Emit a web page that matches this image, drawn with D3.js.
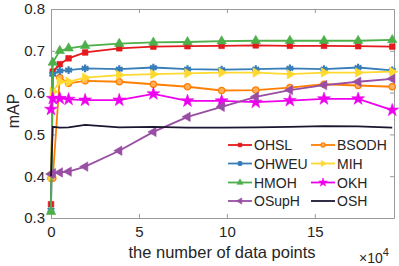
<!DOCTYPE html>
<html>
<head>
<meta charset="utf-8">
<script src="https://cdn.jsdelivr.net/npm/d3@7"></script>
<style>
  body { margin: 0; background: #fff; }
  text { font-family: "Liberation Sans", Arial, sans-serif; fill: #262626; }
</style>
</head>
<body>
<div id="container"></div>
<script>
// DATA (x in units of 1e4 data points)
const xValues = [0, 0.1, 0.5, 1, 1.94, 3.88, 5.82, 7.76, 9.7, 11.64, 13.58, 15.52, 17.46, 19.4];

const OHSL   = [0.333, 0.650, 0.668, 0.682, 0.696, 0.706, 0.710, 0.711, 0.712, 0.713, 0.712, 0.712, 0.711, 0.710];
const BSODH  = [0.395, 0.395, 0.636, 0.622, 0.628, 0.626, 0.620, 0.614, 0.605, 0.606, 0.612, 0.620, 0.617, 0.614];
const OHWEU  = [0.319, 0.644, 0.652, 0.654, 0.658, 0.656, 0.660, 0.656, 0.655, 0.656, 0.658, 0.656, 0.660, 0.653];
const MIH    = [0.400, 0.602, 0.626, 0.626, 0.636, 0.642, 0.644, 0.646, 0.648, 0.648, 0.644, 0.648, 0.648, 0.650];
const HMOH   = [0.315, 0.672, 0.700, 0.706, 0.712, 0.717, 0.720, 0.721, 0.723, 0.724, 0.724, 0.724, 0.724, 0.726];
const OKH    = [0.560, 0.586, 0.586, 0.584, 0.582, 0.582, 0.597, 0.580, 0.580, 0.577, 0.581, 0.585, 0.585, 0.558];
const OSupH  = [0.405, 0.407, 0.409, 0.411, 0.423, 0.461, 0.506, 0.542, 0.566, 0.590, 0.606, 0.618, 0.626, 0.633];
const OSH    = [0.400, 0.518, 0.516, 0.517, 0.523, 0.517, 0.518, 0.516, 0.516, 0.517, 0.518, 0.520, 0.519, 0.516];

const yTicks = [0.3, 0.4, 0.5, 0.6, 0.7, 0.8];
const xTicks = [0, 5, 10, 15];

const series = [
  { name: "OHSL",  values: OHSL,  color: "#e41a1c", marker: "square" },
  { name: "BSODH", values: BSODH, color: "#ff7f00", marker: "circle" },
  { name: "OHWEU", values: OHWEU, color: "#377eb8", marker: "asterisk" },
  { name: "MIH",   values: MIH,   color: "#ffd92f", marker: "right" },
  { name: "HMOH",  values: HMOH,  color: "#4daf4a", marker: "up" },
  { name: "OKH",   values: OKH,   color: "#ee00ee", marker: "star" },
  { name: "OSupH", values: OSupH, color: "#984ea3", marker: "left" },
  { name: "OSH",   values: OSH,   color: "#1b1530", marker: "none" }
];

// CONSTANTS
const width = 399, height = 266,
  margin = { top: 9, bottom: 48, left: 51, right: 5 };

const xScale = d3.scaleLinear()
  .domain([0, 19.5])
  .range([margin.left, width - margin.right]);

const yScale = d3.scaleLinear()
  .domain([0.3, 0.8])
  .range([height - margin.bottom, margin.top]);

const svg = d3.select("#container")
  .append("svg")
  .attr("width", width)
  .attr("height", height);

// AXES (box with inward ticks)
const axisColor = "#9a9a9a";
function styleAxis(g) {
  g.select(".domain").attr("stroke", axisColor);
  g.selectAll(".tick line").attr("stroke", axisColor);
  g.selectAll(".tick text").style("font-size", "15px").attr("fill", "#262626");
}

svg.append("g")
  .attr("transform", `translate(0, ${height - margin.bottom})`)
  .call(d3.axisBottom(xScale).tickValues(xTicks).tickSizeInner(-4).tickSizeOuter(0).tickPadding(8))
  .call(styleAxis);

svg.append("g")
  .attr("transform", `translate(0, ${margin.top})`)
  .call(d3.axisTop(xScale).tickValues(xTicks).tickSizeInner(-4).tickSizeOuter(0).tickFormat(""))
  .call(styleAxis);

svg.append("g")
  .attr("transform", `translate(${margin.left}, 0)`)
  .call(d3.axisLeft(yScale).tickValues(yTicks).tickSizeInner(-4).tickSizeOuter(0).tickPadding(6).tickFormat(d3.format(".1f")))
  .call(styleAxis);

svg.append("g")
  .attr("transform", `translate(${width - margin.right}, 0)`)
  .call(d3.axisRight(yScale).tickValues(yTicks).tickSizeInner(-4).tickSizeOuter(0).tickFormat(""))
  .call(styleAxis);

// LABELS
svg.append("text")
  .attr("x", 222)
  .attr("y", 258)
  .attr("text-anchor", "middle")
  .style("font-size", "16.5px")
  .text("the number of data points");

const expLabel = svg.append("text")
  .attr("x", 359)
  .attr("y", 263)
  .style("font-size", "14px");
expLabel.append("tspan").text("\u00d710");
expLabel.append("tspan").attr("dy", -7).style("font-size", "11px").text("4");

svg.append("text")
  .attr("transform", "translate(19, 111) rotate(-90)")
  .attr("text-anchor", "middle")
  .style("font-size", "16px")
  .text("mAP");

// MARKERS
function markerPath(type, size) {
  switch (type) {
    case "square": return d3.symbol(d3.symbolSquare, size)();
    case "circle": return d3.symbol(d3.symbolCircle, size)();
    case "asterisk": return d3.symbol(d3.symbolAsterisk, size * 1.3)();
    case "star": return d3.symbol(d3.symbolStar, size * 1.6)();
    default: return d3.symbol(d3.symbolTriangle, size * 1.2)();
  }
}
const rotation = { right: 90, left: -90, up: 0 };

function drawMarker(g, type, color, x, y, size) {
  if (type === "none") return;
  const p = g.append("path")
    .attr("d", markerPath(type, size))
    .attr("transform", `translate(${x},${y}) rotate(${rotation[type] || 0})`);
  if (type === "circle") {
    p.attr("fill", "#ffb060").attr("stroke", color).attr("stroke-width", 1.3);
  } else if (type === "asterisk") {
    p.attr("fill", color).attr("stroke", color).attr("stroke-width", 2.2);
  } else {
    p.attr("fill", color).attr("stroke", color).attr("stroke-width", 0.6);
  }
}

// LINES
const line = d3.line()
  .x((d, i) => xScale(xValues[i]))
  .y(d => yScale(d));

series.forEach(s => {
  svg.append("path")
    .datum(s.values)
    .attr("fill", "none")
    .attr("stroke", s.color)
    .attr("stroke-width", 1.8)
    .attr("d", line);
  const g = svg.append("g");
  s.values.forEach((v, i) => drawMarker(g, s.marker, s.color, xScale(xValues[i]), yScale(v), 32));
});

// LEGEND
const legend = svg.append("g");
const colX = [228, 311], rowY = [145, 163.5, 182.5, 201];
series.forEach((s, i) => {
  const x0 = colX[i % 2], y0 = rowY[Math.floor(i / 2)];
  legend.append("line")
    .attr("x1", x0).attr("x2", x0 + 24)
    .attr("y1", y0).attr("y2", y0)
    .attr("stroke", s.color).attr("stroke-width", 1.8);
  drawMarker(legend, s.marker, s.color, x0 + 12, y0, 14);
  legend.append("text")
    .attr("x", x0 + 26)
    .attr("y", y0 + 5)
    .style("font-size", "14px")
    .text(s.name);
});
</script>
</body>
</html>
